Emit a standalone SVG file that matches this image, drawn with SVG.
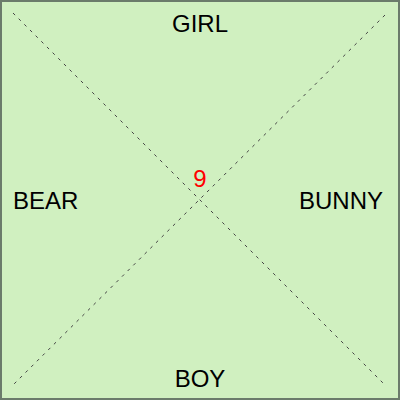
<svg xmlns="http://www.w3.org/2000/svg" width="400" height="400" viewBox="0 0 400 400">
<style>
.lbl{font-family:"Liberation Sans",Arial,sans-serif;font-size:24px;fill:#000}
.num{font-family:"Liberation Sans",Arial,sans-serif;font-size:24px;fill:#ff0000}
.diag{stroke:#444;stroke-width:1;stroke-dasharray:3,5;fill:none}
</style>
<rect x="1" y="1" width="398" height="398" fill="#d0f0c0" stroke="#6b7b6b" stroke-width="2"/>
<g id="connectors">
<line class="diag" x1="13" y1="13" x2="385" y2="385"/>
<line class="diag" x1="385" y1="15" x2="13" y2="385"/>
</g>
<g id="girl"><text class="lbl" x="200" y="32" text-anchor="middle">GIRL</text></g>
<g id="boy"><text class="lbl" x="200" y="387" text-anchor="middle">BOY</text></g>
<g id="bear"><text class="lbl" x="13" y="209">BEAR</text></g>
<g id="bunny"><text class="lbl" x="299" y="209">BUNNY</text></g>
<g id="center"><text class="num" x="200" y="187" text-anchor="middle">9</text></g>
</svg>
